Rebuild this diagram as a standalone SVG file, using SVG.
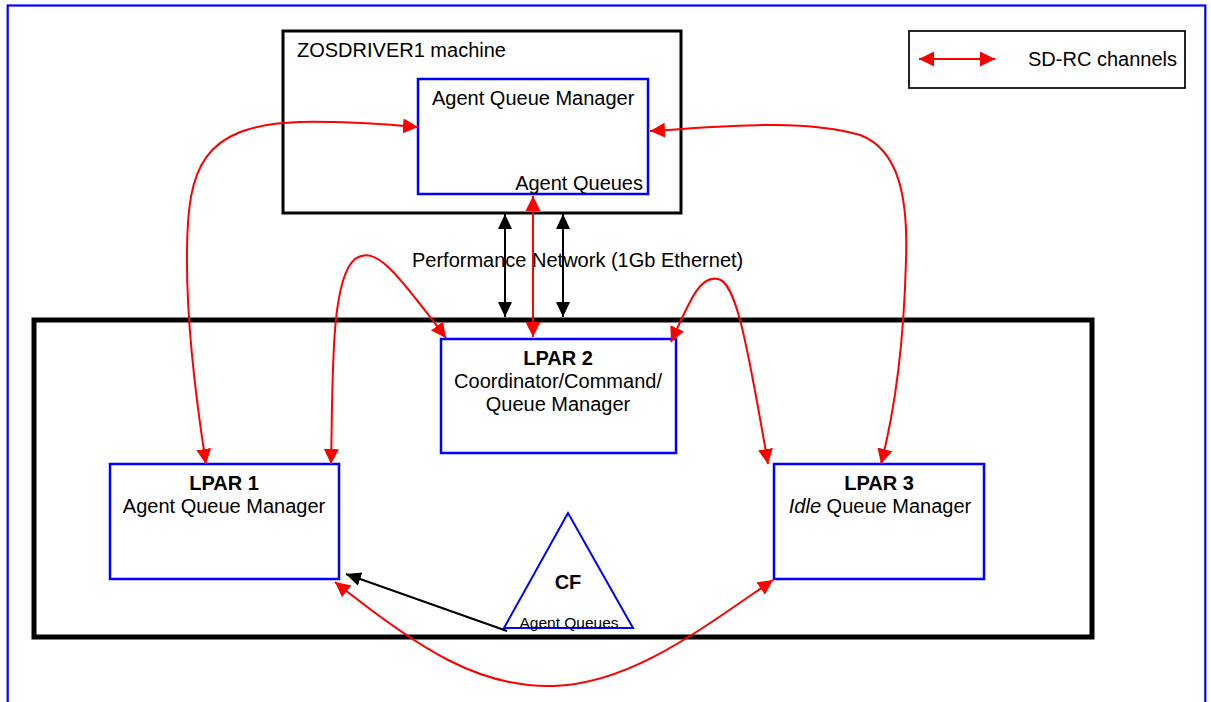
<svg xmlns="http://www.w3.org/2000/svg" width="1211" height="702" viewBox="0 0 1211 702">
<style>
  text { font-family: "Liberation Sans", Arial, sans-serif; font-size: 20px; fill: #000; }
  .b { font-weight: bold; }
  .blue { fill: #fff; stroke: #0000ff; stroke-width: 2.5; }
  .red { fill: none; stroke: #ff0000; stroke-width: 2; }
  .blk { fill: none; stroke: #000; stroke-width: 2; }
</style>
<defs>
  <marker id="ra" markerUnits="userSpaceOnUse" markerWidth="16" markerHeight="16" refX="15" refY="7.5" orient="auto-start-reverse" viewBox="0 0 16 16">
    <path d="M0,0 L15,7.5 L0,15 z" fill="#ff0000"/>
  </marker>
  <marker id="ka" markerUnits="userSpaceOnUse" markerWidth="16" markerHeight="16" refX="15" refY="7" orient="auto-start-reverse" viewBox="0 0 16 16">
    <path d="M0,0 L15,7 L0,14 z" fill="#000"/>
  </marker>
</defs>
<rect width="1211" height="702" fill="#fff"/>
<rect x="7.7" y="5.5" width="1197.6" height="730" fill="none" stroke="#0000ff" stroke-width="2.2"/>

<g id="legend">
  <rect x="909" y="31" width="276" height="57" fill="#fff" stroke="#000" stroke-width="1.7"/>
  <line x1="919" y1="59" x2="995" y2="59" class="red" marker-start="url(#ra)" marker-end="url(#ra)"/>
  <text x="1028" y="66">SD-RC channels</text>
</g>

<g id="zosdriver">
  <rect x="283" y="31" width="398" height="182" fill="#fff" stroke="#000" stroke-width="3"/>
  <text x="297" y="57">ZOSDRIVER1 machine</text>
</g>
<g id="agent-qm">
  <rect x="418" y="79" width="230" height="115" class="blue"/>
  <text x="432" y="105">Agent Queue Manager</text>
  <text x="643" y="190" text-anchor="end">Agent Queues</text>
</g>

<g id="sysplex">
  <rect x="34" y="320" width="1058" height="317" fill="none" stroke="#000" stroke-width="5"/>
</g>
<text x="412" y="267">Performance Network (1Gb Ethernet)</text>

<g id="lpar2">
  <rect x="441" y="339" width="235" height="114" class="blue"/>
  <text x="558" y="365" text-anchor="middle" class="b">LPAR 2</text>
  <text x="558" y="388" text-anchor="middle">Coordinator/Command/</text>
  <text x="558" y="411" text-anchor="middle">Queue Manager</text>
</g>
<g id="lpar1">
  <rect x="110" y="464" width="229" height="115" class="blue"/>
  <text x="224" y="490" text-anchor="middle" class="b">LPAR 1</text>
  <text x="224" y="513" text-anchor="middle">Agent Queue Manager</text>
</g>
<g id="lpar3">
  <rect x="774" y="464" width="210" height="115" class="blue"/>
  <text x="879" y="490" text-anchor="middle" class="b">LPAR 3</text>
  <text x="880" y="513" text-anchor="middle"><tspan font-style="italic">Idle</tspan> Queue Manager</text>
</g>
<g id="cf">
  <polygon points="568,513 504,628 633,628" fill="#fff" stroke="#0000ff" stroke-width="2"/>
  <text x="568" y="589" text-anchor="middle" class="b">CF</text>
  <text x="569" y="628" text-anchor="middle" style="font-size:15.5px">Agent Queues</text>
</g>

<g id="connectors">
  <line x1="505" y1="214" x2="505" y2="317" class="blk" marker-start="url(#ka)" marker-end="url(#ka)"/>
  <line x1="563" y1="214" x2="563" y2="317" class="blk" marker-start="url(#ka)" marker-end="url(#ka)"/>
  <line x1="533" y1="196" x2="533" y2="337" class="red" marker-start="url(#ra)" marker-end="url(#ra)"/>
  <path d="M206,464 C196,400 186,320 187,250 C188,170 200,125 300,122 C350,121 390,125 418,127" class="red" marker-start="url(#ra)" marker-end="url(#ra)"/>
  <path d="M650,131 C720,127 800,118 860,135 C900,150 908,200 906,260 C904,340 895,410 881,464" class="red" marker-start="url(#ra)" marker-end="url(#ra)"/>
  <path d="M331,464 C333,380 330,280 355,259 C375,245 395,270 446,338" class="red" marker-start="url(#ra)" marker-end="url(#ra)"/>
  <path d="M671,342 C690,300 700,275 718,279 C735,283 745,330 768,464" class="red" marker-start="url(#ra)" marker-end="url(#ra)"/>
  <path d="M335,582 C420,650 480,688 553,686 C630,684 700,630 773,580" class="red" marker-start="url(#ra)" marker-end="url(#ra)"/>
  <line x1="507" y1="631" x2="346" y2="574" class="blk" marker-end="url(#ka)"/>
</g>
</svg>
